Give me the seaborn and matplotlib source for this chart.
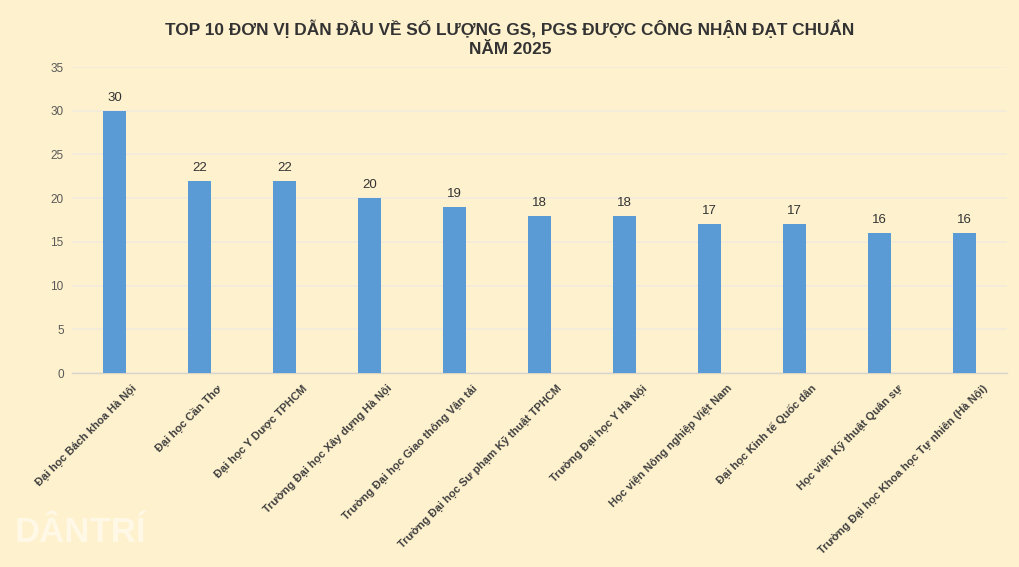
import matplotlib
matplotlib.use("Agg")
import matplotlib.pyplot as plt
import matplotlib.transforms as mtransforms
import seaborn as sns
import pandas as pd

# ----------------------------
# Data
# ----------------------------
units = [
    "Đại học Bách khoa Hà Nội",
    "Đại học Cần Thơ",
    "Đại học Y Dược TPHCM",
    "Trường Đại học Xây dựng Hà Nội",
    "Trường Đại học Giao thông Vận tải",
    "Trường Đại học Sư phạm Kỹ thuật TPHCM",
    "Trường Đại học Y Hà Nội",
    "Học viện Nông nghiệp Việt Nam",
    "Đại học Kinh tế Quốc dân",
    "Học viện Kỹ thuật Quân sự",
    "Trường Đại học Khoa học Tự nhiên (Hà Nội)",
]
counts = [30, 22, 22, 20, 19, 18, 18, 17, 17, 16, 16]
y_ticks = [0, 5, 10, 15, 20, 25, 30, 35]

df = pd.DataFrame({"unit": units, "count": counts})

BG = "#FEF1CD"
BAR = "#5B9BD5"

sns.set_theme(style="white")
plt.rcParams["font.family"] = ["Liberation Sans", "DejaVu Sans"]

fig = plt.figure(figsize=(10.2, 5.67), dpi=100, facecolor=BG)
ax = fig.add_axes([72 / 1020, 1 - 373 / 567, 935 / 1020, 306 / 567])
ax.set_facecolor(BG)

sns.barplot(data=df, x="unit", y="count", color=BAR, width=0.28,
            saturation=1, linewidth=0, edgecolor="none", ax=ax, zorder=3)

ax.set_ylim(0, 35)
ax.set_xlim(-0.5, len(units) - 0.5)
ax.set_yticks(y_ticks)
ax.set_yticklabels([str(t) for t in y_ticks], fontsize=8.5, color="#595959")
ax.tick_params(axis="y", length=0, pad=6)
ax.tick_params(axis="x", length=0, pad=2)
ax.yaxis.grid(True, color="#F2EBDC", linewidth=1.2, zorder=0)
ax.xaxis.grid(False)
for s in ["top", "right", "left"]:
    ax.spines[s].set_visible(False)
ax.spines["bottom"].set_color("#D9D4C6")
ax.spines["bottom"].set_linewidth(1)
ax.set_xlabel("")
ax.set_ylabel("")

# value labels
for i, v in enumerate(counts):
    ax.annotate(str(v), (i, v), xytext=(0, 5), textcoords="offset points",
                ha="center", va="bottom", fontsize=9.5, color="#333333")

# rotated category labels
offset = mtransforms.ScaledTranslation(21 / 100, -11 / 100, fig.dpi_scale_trans)
ax.set_xticks(range(len(units)))
ax.set_xticklabels(units, rotation=45, ha="right", va="center",
                   rotation_mode="anchor", fontsize=8, fontweight="bold",
                   color="#404040")
for lbl in ax.get_xticklabels():
    lbl.set_transform(lbl.get_transform() + offset)

fig.text(0.5, 1 - 29 / 567,
         "TOP 10 ĐƠN VỊ DẪN ĐẦU VỀ SỐ LƯỢNG GS, PGS ĐƯỢC CÔNG NHẬN ĐẠT CHUẨN",
         ha="center", va="center", fontsize=12.4, fontweight="bold",
         color="#333333")
fig.text(0.5, 1 - 49 / 567, "NĂM 2025", ha="center", va="center",
         fontsize=12.4, fontweight="bold", color="#333333")

# watermark
fig.text(15 / 1020, 1 - 533 / 567, "DÂNTRÍ", ha="left", va="center",
         fontsize=25, fontweight="heavy", color="#FFF8E6")

fig.savefig("out.png", dpi=100, facecolor=BG)
